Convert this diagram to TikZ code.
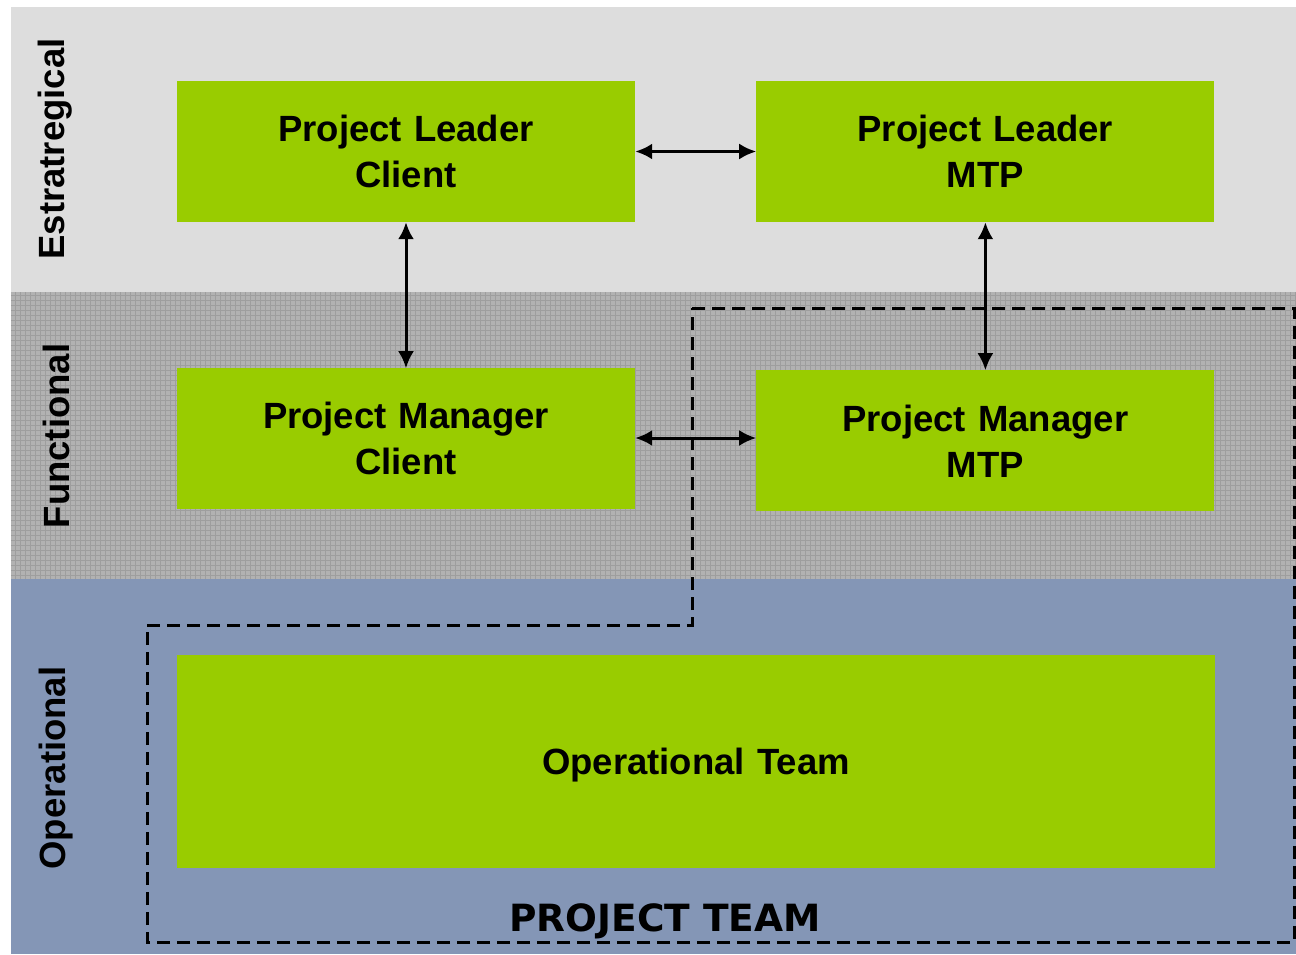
\documentclass[tikz,border=0pt]{standalone}
\usepackage{fontspec}
\setmainfont{Liberation Sans}
\newfontfamily\teamfont{DejaVu Sans}
\usepackage{tikz}
\usetikzlibrary{positioning,arrows.meta}
\definecolor{boxgreen}{HTML}{99CC00}
\definecolor{bandlight}{HTML}{DDDDDD}
\definecolor{bandmid}{HTML}{B2B2B2}
\definecolor{bandgrid}{HTML}{9E9E9E}
\definecolor{bandblue}{HTML}{8496B6}
\tikzset{
  rolebox/.style={
    rectangle,
    fill=boxgreen,
    minimum width=458pt,
    minimum height=141pt,
    text width=430pt,
    align=center,
    font=\fontsize{36.5}{46}\selectfont\bfseries},
  levellabel/.style={
    rotate=90,
    font=\fontsize{36.5}{44}\selectfont\bfseries},
  link/.style={draw, line width=3pt, {Latex[length=17pt,width=16pt]}-{Latex[length=17pt,width=16pt]}},
  teamline/.style={draw, line width=3pt, dash pattern=on 13pt off 7pt},
}
\begin{document}
\begin{tikzpicture}[x=1pt,y=-1pt]
  \useasboundingbox (0,0) rectangle (1296,954);
  % level bands
  \fill[bandlight] (11,7) rectangle (1296,292);
  \fill[bandmid] (11,292) rectangle (1296,579);
  \draw[bandgrid, line width=0.6pt, step=5pt] (11,292) grid (1296,579);
  \fill[bandblue] (11,579) rectangle (1296,954);

  \node[levellabel] (Estrat) at (55,149) {Estratregical};
  \node[levellabel] (Func) at (56,436) {Functional};
  \node[levellabel] (Oper) at (56,768) {Operational};

  % roles
  \node[rolebox] (PLClient) at (406,151.5) {Project Leader\\Client};
  \node[rolebox, right=121pt of PLClient] (PLMtp) {Project Leader\\MTP};
  \node[rolebox, below=146pt of PLClient] (PMClient) {Project Manager\\Client};
  \node[rolebox, right=121pt of PMClient, yshift=-2pt] (PMMtp) {Project Manager\\MTP};
  \node[rolebox, minimum width=1038pt, minimum height=213pt, text width=1000pt,
    text depth=0pt] (OpTeam) at (696,761.5) {Operational Team};

  \path[link] (PLClient) -- (PLMtp);
  \path[link] (PMClient.east |- 0,438) -- (PMMtp.west |- 0,438);
  \path[link] (PLClient) -- (PMClient);
  \path[link] (PLMtp) -- (PMMtp);

  % project team outline
  \coordinate (TeamA) at (692,308);
  \coordinate (TeamB) at (1294,308);
  \coordinate (TeamC) at (1294,942);
  \coordinate (TeamD) at (147,942);
  \coordinate (TeamE) at (147,625);
  \coordinate (TeamF) at (692,625);
  \path[teamline] (TeamA) -- (TeamB) -- (TeamC) -- (TeamD) -- (TeamE) -- (TeamF) -- cycle;
  \node[font=\teamfont\fontsize{37.5}{40}\selectfont\bfseries] (TeamLabel) at (665,921) {PROJECT TEAM};
\end{tikzpicture}
\end{document}
